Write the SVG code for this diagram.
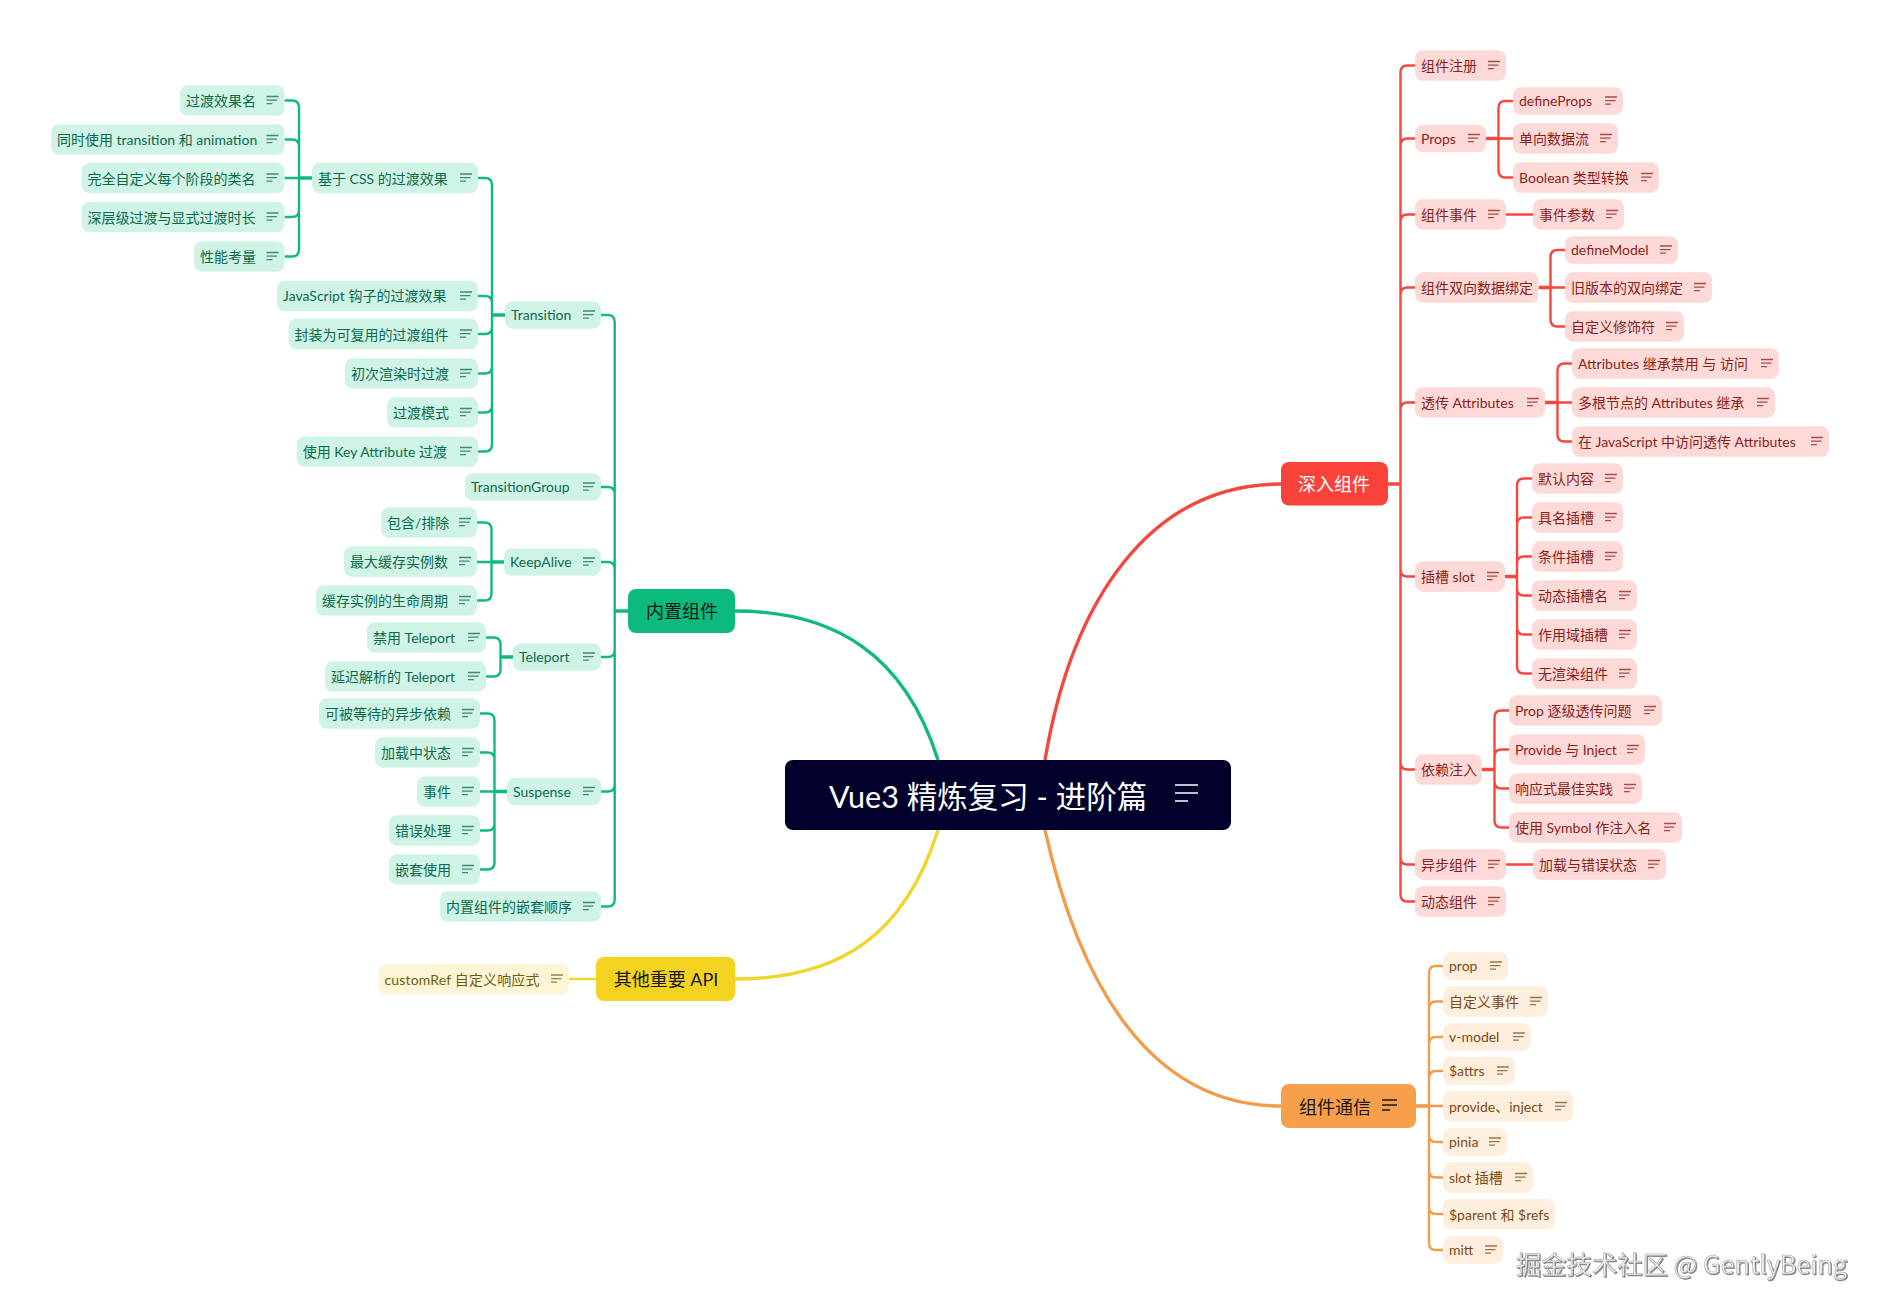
<svg xmlns="http://www.w3.org/2000/svg" width="1880" height="1314" viewBox="0 0 1880 1314">
<style>
text{font-family:"Lato","Noto Sans CJK SC",sans-serif;font-size:14px}
.node rect{rx:8px;ry:8px}
.node use{opacity:.75}
.g rect{fill:#cff3e5}.g{color:#0b6b4b}.g text{fill:#0b6b4b}
.r rect{fill:#fdd9d7}.r{color:#8a1f1a}.r text{fill:#8a1f1a}
.o rect{fill:#feeedd}.o{color:#7d4a12}.o text{fill:#7d4a12}
.y rect{fill:#fdf5d6}.y{color:#6e5e0b}.y text{fill:#6e5e0b}
.l1 text{font-size:18px;fill:#14181a}
#n-deep rect{fill:#f9423a}#n-deep text{fill:#fff}
#n-builtin rect{fill:#0bba7c}
#n-comm rect{fill:#f79f4a}#n-comm{color:#14181a}
#n-api rect{fill:#f4d320}
#n-root rect{fill:#01012c}#n-root text{fill:#fff;font-size:30.500px}#n-root{color:#fff}
#conn path{fill:none;stroke-width:2.4;stroke-linecap:butt}
#conn .m{stroke-width:3.4}
#conn .s{stroke-width:3.6}
#conn .cg{stroke:#0fb981}#conn .cr{stroke:#f4473e}#conn .co{stroke:#f39b49}#conn .cy{stroke:#f0d52c}
#wm{font-size:25.300px;font-family:"Noto Sans CJK SC",sans-serif;fill:#f2f2f2;stroke:#9a9a9a;stroke-width:.5;filter:drop-shadow(1px 1px 0 #808080)}
</style>
<defs>
<g id="ic" fill="none" stroke="currentColor" stroke-width="1.3"><path d="M0 0H12M0 3.6H10.500M0 7.200H6"/></g>
<g id="ic1" fill="none" stroke="currentColor" stroke-width="1.800"><path d="M0 0H15M0 5H15M0 10H8"/></g>
<g id="ic0" fill="none" stroke="currentColor" stroke-width="2.200"><path d="M0 0H23M0 8H23M0 16H13"/></g>
</defs>
<rect width="1880" height="1314" fill="#fff"/>
<g id="conn">
<g class="cg">
<path class="m cg" d="M735 611C835 611 905 655 938 760"/>
<path class="s cg" d="M312 178H299M505 315H492M628 611H614.700M504 562H491.500M513 657H500.500M507 791.500H494.500"/>
<path class="cg" d="M299 178V107.500Q299 100.500 292 100.500H284.500M299 178V146.500Q299 139.500 292 139.500H284.500M299 178H284.500M299 178V210Q299 217 292 217H284.500M299 178V249.500Q299 256.500 292 256.500H284.500"/>
<path class="cg" d="M492 315V185Q492 178 485 178H478M492 315V303Q492 296 485 296H478M492 315V327Q492 334 485 334H478M492 315V366.500Q492 373.500 485 373.500H478M492 315V405.500Q492 412.500 485 412.500H478M492 315V444.500Q492 451.500 485 451.500H478"/>
<path class="cg" d="M614.700 611V322Q614.700 315 607.700 315H601M614.700 611V494Q614.700 487 607.700 487H601M614.700 611V569Q614.700 562 607.700 562H601M614.700 611V650Q614.700 657 607.700 657H601M614.700 611V784.500Q614.700 791.500 607.700 791.500H601M614.700 611V899.500Q614.700 906.500 607.700 906.500H601"/>
<path class="cg" d="M491.500 562V529.500Q491.500 522.500 484.500 522.500H477M491.500 562H477M491.500 562V593.500Q491.500 600.500 484.500 600.500H477"/>
<path class="cg" d="M500.500 657V644.500Q500.500 637.500 493.500 637.500H486M500.500 657V669.500Q500.500 676.500 493.500 676.500H486"/>
<path class="cg" d="M494.500 791.500V720.500Q494.500 713.500 487.500 713.500H480M494.500 791.500V759.500Q494.500 752.500 487.500 752.500H480M494.500 791.500H480M494.500 791.500V823.500Q494.500 830.500 487.500 830.500H480M494.500 791.500V862.500Q494.500 869.500 487.500 869.500H480"/>
</g>
<path class="m cy" d="M735 979C840 979 905 935 938 830"/>
<path class="cy" d="M596 979H569"/>
<path class="m cr" d="M1281 484C1150 484 1072 600 1045 760"/>
<path class="s cr" d="M1388 484H1400.500M1486 138.500H1498.500M1538.500 287.500H1550.500M1545 402.500H1557.500M1505 576.500H1517M1482 769.500H1494.500"/>
<path class="cr" d="M1400.500 484V72.500Q1400.500 65.500 1407.500 65.500H1415M1400.500 484V145.500Q1400.500 138.500 1407.500 138.500H1415M1400.500 484V221.500Q1400.500 214.500 1407.500 214.500H1415M1400.500 484V294.500Q1400.500 287.500 1407.500 287.500H1415M1400.500 484V409.500Q1400.500 402.500 1407.500 402.500H1415M1400.500 484V569.500Q1400.500 576.500 1407.500 576.500H1415M1400.500 484V762.500Q1400.500 769.500 1407.500 769.500H1415M1400.500 484V857.500Q1400.500 864.500 1407.500 864.500H1415M1400.500 484V894.500Q1400.500 901.500 1407.500 901.500H1415"/>
<path class="cr" d="M1498.500 138.500V108Q1498.500 101 1505.500 101H1513M1498.500 138.500H1513M1498.500 138.500V170.500Q1498.500 177.500 1505.500 177.500H1513"/>
<path class="cr" d="M1506 214.500H1533M1506 864.500H1533"/>
<path class="cr" d="M1550.500 287.500V257Q1550.500 250 1557.500 250H1565M1550.500 287.500H1565M1550.500 287.500V319.500Q1550.500 326.500 1557.500 326.500H1565"/>
<path class="cr" d="M1557.500 402.500V370.500Q1557.500 363.500 1564.500 363.500H1572M1557.500 402.500H1572M1557.500 402.500V434.500Q1557.500 441.500 1564.500 441.500H1572"/>
<path class="cr" d="M1517 576.500V485.500Q1517 478.500 1524 478.500H1532M1517 576.500V524.500Q1517 517.500 1524 517.500H1532M1517 576.500V563.500Q1517 556.500 1524 556.500H1532M1517 576.500V588.500Q1517 595.500 1524 595.500H1532M1517 576.500V627.500Q1517 634.500 1524 634.500H1532M1517 576.500V666.500Q1517 673.500 1524 673.500H1532"/>
<path class="cr" d="M1494.500 769.500V717.500Q1494.500 710.500 1501.500 710.500H1509M1494.500 769.500V756.500Q1494.500 749.500 1501.500 749.500H1509M1494.500 769.500V781.500Q1494.500 788.500 1501.500 788.500H1509M1494.500 769.500V820.500Q1494.500 827.500 1501.500 827.500H1509"/>
<path class="m co" d="M1281 1106C1165 1106 1085 1010 1045 830"/>
<path class="s co" d="M1416 1106H1429"/>
<path class="co" d="M1429 1106V973Q1429 966 1436 966H1443M1429 1106V1008.500Q1429 1001.500 1436 1001.500H1443M1429 1106V1044Q1429 1037 1436 1037H1443M1429 1106V1078Q1429 1071 1436 1071H1443M1429 1106H1443M1429 1106V1135Q1429 1142 1436 1142H1443M1429 1106V1170.500Q1429 1177.500 1436 1177.500H1443M1429 1106V1207Q1429 1214 1436 1214H1443M1429 1106V1243Q1429 1250 1436 1250H1443"/>
</g>
<g id="n-root" class="node"><rect x="785" y="760" width="446" height="70"/><text x="829" y="808">Vue3 精炼复习 - 进阶篇</text><use href="#ic0" x="1175" y="785"/></g>
<g id="n-builtin" class="node l1"><rect x="628" y="589" width="107" height="44"/><text x="646" y="617.500">内置组件</text></g>
<g id="n-deep" class="node l1"><rect x="1281" y="462" width="107" height="43.500"/><text x="1298" y="491">深入组件</text></g>
<g id="n-comm" class="node l1"><rect x="1281" y="1084" width="135" height="44"/><text x="1299" y="1114">组件通信</text><use href="#ic1" x="1382" y="1100"/></g>
<g id="n-api" class="node l1"><rect x="596" y="957" width="139.300" height="44"/><text x="613.700" y="986">其他重要 API</text></g>
<g id="n-css" class="node g"><rect x="312" y="162.750" width="166" height="30.500"/><text x="318" y="183.700">基于 CSS 的过渡效果</text><use href="#ic" x="460" y="174"/></g>
<g id="n-c1" class="node g"><rect x="180" y="85.250" width="104.500" height="30.500"/><text x="186" y="105.500">过渡效果名</text><use href="#ic" x="266.500" y="96.500"/></g>
<g id="n-c2" class="node g"><rect x="51" y="124.250" width="233.500" height="30.500"/><text x="57" y="144.500">同时使用 transition 和 animation</text><use href="#ic" x="266.500" y="135.500"/></g>
<g id="n-c3" class="node g"><rect x="81.600" y="162.750" width="202.900" height="30.500"/><text x="87.600" y="183.700">完全自定义每个阶段的类名</text><use href="#ic" x="266.500" y="174"/></g>
<g id="n-c4" class="node g"><rect x="81.600" y="201.750" width="202.900" height="30.500"/><text x="87.600" y="222.700">深层级过渡与显式过渡时长</text><use href="#ic" x="266.500" y="213"/></g>
<g id="n-c5" class="node g"><rect x="194" y="241.250" width="90.500" height="30.500"/><text x="200" y="261.500">性能考量</text><use href="#ic" x="266.500" y="252.500"/></g>
<g id="n-t" class="node g"><rect x="505" y="301.250" width="96" height="27.500"/><text x="511" y="320">Transition</text><use href="#ic" x="583" y="311"/></g>
<g id="n-t2" class="node g"><rect x="277" y="280.750" width="201" height="30.500"/><text x="283" y="301">JavaScript 钩子的过渡效果</text><use href="#ic" x="460" y="292"/></g>
<g id="n-t3" class="node g"><rect x="288.600" y="318.750" width="189.400" height="30.500"/><text x="294.600" y="339.700">封装为可复用的过渡组件</text><use href="#ic" x="460" y="330"/></g>
<g id="n-t4" class="node g"><rect x="345" y="358.250" width="133" height="30.500"/><text x="351" y="378.500">初次渲染时过渡</text><use href="#ic" x="460" y="369.500"/></g>
<g id="n-t5" class="node g"><rect x="387" y="397.250" width="91" height="30.500"/><text x="393" y="417.500">过渡模式</text><use href="#ic" x="460" y="408.500"/></g>
<g id="n-t6" class="node g"><rect x="296.700" y="436.250" width="181.300" height="30.500"/><text x="302.700" y="456.500">使用 Key Attribute 过渡</text><use href="#ic" x="460" y="447.500"/></g>
<g id="n-tg" class="node g"><rect x="465" y="473.250" width="136" height="27.500"/><text x="471" y="492">TransitionGroup</text><use href="#ic" x="583" y="483"/></g>
<g id="n-ka" class="node g"><rect x="504" y="548.250" width="97" height="27.500"/><text x="510" y="567">KeepAlive</text><use href="#ic" x="583" y="558"/></g>
<g id="n-ka1" class="node g"><rect x="381" y="507.250" width="96" height="30.500"/><text x="387" y="527.500">包含/排除</text><use href="#ic" x="459" y="518.500"/></g>
<g id="n-ka2" class="node g"><rect x="344" y="546.250" width="133" height="30.500"/><text x="350" y="566.500">最大缓存实例数</text><use href="#ic" x="459" y="557.500"/></g>
<g id="n-ka3" class="node g"><rect x="316" y="585.250" width="161" height="30.500"/><text x="322" y="605.500">缓存实例的生命周期</text><use href="#ic" x="459" y="596.500"/></g>
<g id="n-tp" class="node g"><rect x="513" y="643.250" width="88" height="27.500"/><text x="519" y="662">Teleport</text><use href="#ic" x="583" y="653"/></g>
<g id="n-tp1" class="node g"><rect x="367" y="622.250" width="119" height="30.500"/><text x="373" y="642.500">禁用 Teleport</text><use href="#ic" x="468" y="633.500"/></g>
<g id="n-tp2" class="node g"><rect x="325" y="661.250" width="161" height="30.500"/><text x="331" y="681.500">延迟解析的 Teleport</text><use href="#ic" x="468" y="672.500"/></g>
<g id="n-s" class="node g"><rect x="507" y="777.750" width="94" height="27.500"/><text x="513" y="796.500">Suspense</text><use href="#ic" x="583" y="787.500"/></g>
<g id="n-s1" class="node g"><rect x="319" y="698.250" width="161" height="30.500"/><text x="325" y="718.500">可被等待的异步依赖</text><use href="#ic" x="462" y="709.500"/></g>
<g id="n-s2" class="node g"><rect x="375" y="737.250" width="105" height="30.500"/><text x="381" y="757.500">加载中状态</text><use href="#ic" x="462" y="748.500"/></g>
<g id="n-s3" class="node g"><rect x="417" y="776.250" width="63" height="30.500"/><text x="423" y="796.500">事件</text><use href="#ic" x="462" y="787.500"/></g>
<g id="n-s4" class="node g"><rect x="389" y="815.250" width="91" height="30.500"/><text x="395" y="835.500">错误处理</text><use href="#ic" x="462" y="826.500"/></g>
<g id="n-s5" class="node g"><rect x="389" y="854.250" width="91" height="30.500"/><text x="395" y="874.500">嵌套使用</text><use href="#ic" x="462" y="865.500"/></g>
<g id="n-order" class="node g"><rect x="440" y="891.250" width="161" height="30.500"/><text x="446" y="911.500">内置组件的嵌套顺序</text><use href="#ic" x="583" y="902.500"/></g>
<g id="n-cr" class="node y"><rect x="378.500" y="964" width="190.500" height="30.500"/><text x="384.500" y="984.500" textLength="155">customRef 自定义响应式</text><use href="#ic" x="551" y="975"/></g>
<g id="n-r1" class="node r"><rect x="1415" y="50.250" width="91" height="30.500"/><text x="1421" y="70.500">组件注册</text><use href="#ic" x="1488" y="61.500"/></g>
<g id="n-r2" class="node r"><rect x="1415" y="124.750" width="71" height="27.500"/><text x="1421" y="143.500">Props</text><use href="#ic" x="1468" y="134.500"/></g>
<g id="n-r2a" class="node r"><rect x="1513" y="87.250" width="110" height="27.500"/><text x="1519" y="106">defineProps</text><use href="#ic" x="1605" y="97"/></g>
<g id="n-r2b" class="node r"><rect x="1513" y="123.250" width="105" height="30.500"/><text x="1519" y="143.500">单向数据流</text><use href="#ic" x="1600" y="134.500"/></g>
<g id="n-r2c" class="node r"><rect x="1513" y="162.250" width="146" height="30.500"/><text x="1519" y="182.500">Boolean 类型转换</text><use href="#ic" x="1641" y="173.500"/></g>
<g id="n-r3" class="node r"><rect x="1415" y="199.250" width="91" height="30.500"/><text x="1421" y="219.500">组件事件</text><use href="#ic" x="1488" y="210.500"/></g>
<g id="n-r3a" class="node r"><rect x="1533" y="199.250" width="91" height="30.500"/><text x="1539" y="219.500">事件参数</text><use href="#ic" x="1606" y="210.500"/></g>
<g id="n-r4" class="node r"><rect x="1415" y="272.250" width="123.500" height="30.500"/><text x="1421" y="292.500">组件双向数据绑定</text></g>
<g id="n-r4a" class="node r"><rect x="1565" y="236.250" width="113" height="27.500"/><text x="1571" y="255">defineModel</text><use href="#ic" x="1660" y="246"/></g>
<g id="n-r4b" class="node r"><rect x="1565" y="272.250" width="147" height="30.500"/><text x="1571" y="292.500">旧版本的双向绑定</text><use href="#ic" x="1694" y="283.500"/></g>
<g id="n-r4c" class="node r"><rect x="1565" y="311.250" width="119" height="30.500"/><text x="1571" y="331.500">自定义修饰符</text><use href="#ic" x="1666" y="322.500"/></g>
<g id="n-r5" class="node r"><rect x="1415" y="387.250" width="130" height="30.500"/><text x="1421" y="407.500">透传 Attributes</text><use href="#ic" x="1527" y="398.500"/></g>
<g id="n-r5a" class="node r"><rect x="1572" y="348.250" width="207" height="30.500"/><text x="1578" y="368.500">Attributes 继承禁用 与 访问</text><use href="#ic" x="1761" y="359.500"/></g>
<g id="n-r5b" class="node r"><rect x="1572" y="387.250" width="203" height="30.500"/><text x="1578" y="407.500">多根节点的 Attributes 继承</text><use href="#ic" x="1757" y="398.500"/></g>
<g id="n-r5c" class="node r"><rect x="1572" y="426.250" width="257" height="30.500"/><text x="1578" y="446.500">在 JavaScript 中访问透传 Attributes</text><use href="#ic" x="1811" y="437.500"/></g>
<g id="n-r6" class="node r"><rect x="1415" y="561.250" width="90" height="30.500"/><text x="1421" y="581.500">插槽 slot</text><use href="#ic" x="1487" y="572.500"/></g>
<g id="n-r6a" class="node r"><rect x="1532" y="463.250" width="91" height="30.500"/><text x="1538" y="483.500">默认内容</text><use href="#ic" x="1605" y="474.500"/></g>
<g id="n-r6b" class="node r"><rect x="1532" y="502.250" width="91" height="30.500"/><text x="1538" y="522.500">具名插槽</text><use href="#ic" x="1605" y="513.500"/></g>
<g id="n-r6c" class="node r"><rect x="1532" y="541.250" width="91" height="30.500"/><text x="1538" y="561.500">条件插槽</text><use href="#ic" x="1605" y="552.500"/></g>
<g id="n-r6d" class="node r"><rect x="1532" y="580.250" width="105" height="30.500"/><text x="1538" y="600.500">动态插槽名</text><use href="#ic" x="1619" y="591.500"/></g>
<g id="n-r6e" class="node r"><rect x="1532" y="619.250" width="105" height="30.500"/><text x="1538" y="639.500">作用域插槽</text><use href="#ic" x="1619" y="630.500"/></g>
<g id="n-r6f" class="node r"><rect x="1532" y="658.250" width="105" height="30.500"/><text x="1538" y="678.500">无渲染组件</text><use href="#ic" x="1619" y="669.500"/></g>
<g id="n-r7" class="node r"><rect x="1415" y="754.250" width="67" height="30.500"/><text x="1421" y="774.500">依赖注入</text></g>
<g id="n-r7a" class="node r"><rect x="1509" y="695.250" width="153" height="30.500"/><text x="1515" y="715.500">Prop 逐级透传问题</text><use href="#ic" x="1644" y="706.500"/></g>
<g id="n-r7b" class="node r"><rect x="1509" y="734.250" width="136" height="30.500"/><text x="1515" y="754.500">Provide 与 Inject</text><use href="#ic" x="1627" y="745.500"/></g>
<g id="n-r7c" class="node r"><rect x="1509" y="773.250" width="133" height="30.500"/><text x="1515" y="793.500">响应式最佳实践</text><use href="#ic" x="1624" y="784.500"/></g>
<g id="n-r7d" class="node r"><rect x="1509" y="812.250" width="173" height="30.500"/><text x="1515" y="832.500">使用 Symbol 作注入名</text><use href="#ic" x="1664" y="823.500"/></g>
<g id="n-r8" class="node r"><rect x="1415" y="849.250" width="91" height="30.500"/><text x="1421" y="869.500">异步组件</text><use href="#ic" x="1488" y="860.500"/></g>
<g id="n-r8a" class="node r"><rect x="1533" y="849.250" width="133" height="30.500"/><text x="1539" y="869.500">加载与错误状态</text><use href="#ic" x="1648" y="860.500"/></g>
<g id="n-r9" class="node r"><rect x="1415" y="886.250" width="91" height="30.500"/><text x="1421" y="906.500">动态组件</text><use href="#ic" x="1488" y="897.500"/></g>
<g id="n-o1" class="node o"><rect x="1443" y="952.250" width="65" height="27.500"/><text x="1449" y="971">prop</text><use href="#ic" x="1490" y="962"/></g>
<g id="n-o2" class="node o"><rect x="1443" y="986.250" width="105" height="30.500"/><text x="1449" y="1006.500">自定义事件</text><use href="#ic" x="1530" y="997.500"/></g>
<g id="n-o3" class="node o"><rect x="1443" y="1023.250" width="88" height="27.500"/><text x="1449" y="1042">v-model</text><use href="#ic" x="1513" y="1033"/></g>
<g id="n-o4" class="node o"><rect x="1443" y="1057.250" width="72" height="27.500"/><text x="1449" y="1076">$attrs</text><use href="#ic" x="1497" y="1067"/></g>
<g id="n-o5" class="node o"><rect x="1443" y="1091.250" width="130" height="30.500"/><text x="1449" y="1111.500">provide、inject</text><use href="#ic" x="1555" y="1102.500"/></g>
<g id="n-o6" class="node o"><rect x="1443" y="1128.250" width="64" height="27.500"/><text x="1449" y="1147">pinia</text><use href="#ic" x="1489" y="1138"/></g>
<g id="n-o7" class="node o"><rect x="1443" y="1162.250" width="90" height="30.500"/><text x="1449" y="1182.500">slot 插槽</text><use href="#ic" x="1515" y="1173.500"/></g>
<g id="n-o8" class="node o"><rect x="1443" y="1198.750" width="112" height="30.500"/><text x="1449" y="1219.500">$parent 和 $refs</text></g>
<g id="n-o9" class="node o"><rect x="1443" y="1236.250" width="60" height="27.500"/><text x="1449" y="1255">mitt</text><use href="#ic" x="1485" y="1246"/></g>
<text id="wm" x="1516" y="1274">掘金技术社区 @ GentlyBeing</text>
</svg>
